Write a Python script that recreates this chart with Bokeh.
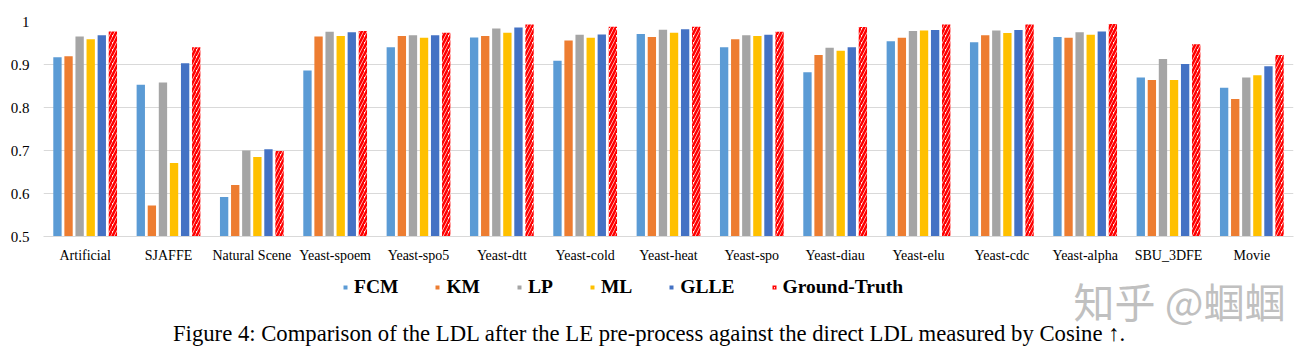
from bokeh.plotting import figure
from bokeh.layouts import column
from bokeh.models import Range1d, FixedTicker, Legend, LegendItem, Label
from bokeh.embed import file_html
from bokeh.resources import INLINE

datasets = ["Artificial", "SJAFFE", "Natural Scene", "Yeast-spoem", "Yeast-spo5", "Yeast-dtt",
            "Yeast-cold", "Yeast-heat", "Yeast-spo", "Yeast-diau", "Yeast-elu", "Yeast-cdc",
            "Yeast-alpha", "SBU_3DFE", "Movie"]
fcm = [0.917, 0.853, 0.592, 0.886, 0.940, 0.963, 0.909, 0.971, 0.940, 0.882, 0.954, 0.952, 0.964, 0.870, 0.846]
km = [0.919, 0.572, 0.620, 0.965, 0.966, 0.966, 0.956, 0.964, 0.959, 0.922, 0.962, 0.968, 0.962, 0.864, 0.820]
lp = [0.965, 0.858, 0.700, 0.976, 0.968, 0.984, 0.969, 0.981, 0.968, 0.939, 0.978, 0.979, 0.975, 0.913, 0.870]
ml = [0.959, 0.671, 0.685, 0.966, 0.962, 0.974, 0.962, 0.974, 0.966, 0.932, 0.979, 0.973, 0.969, 0.864, 0.875]
glle = [0.968, 0.903, 0.703, 0.975, 0.968, 0.986, 0.970, 0.982, 0.969, 0.940, 0.980, 0.980, 0.977, 0.901, 0.896]
ground_truth = [0.977, 0.940, 0.699, 0.978, 0.974, 0.993, 0.988, 0.988, 0.976, 0.987, 0.993, 0.993, 0.994, 0.947, 0.922]
series_names = ["FCM", "KM", "LP", "ML", "GLLE", "Ground-Truth"]
y_ticks = [0.5, 0.6, 0.7, 0.8, 0.9, 1.0]
y_tick_labels = ["0.5", "0.6", "0.7", "0.8", "0.9", "1"]
caption = "Figure 4: Comparison of the LDL after the LE pre-process against the direct LDL measured by Cosine \u2191."
watermark = "\u77e5\u4e4e @\u8748\u8748"

colors = ["#5B9BD5", "#ED7D31", "#A5A5A5", "#FFC000", "#4472C4", "#FF0000"]
serif = "Liberation Serif"
W = 1313

# ---- main chart ----
p = figure(width=W, height=265, output_backend="svg", toolbar_location=None,
           x_range=Range1d(-0.5, len(datasets) - 0.5), y_range=Range1d(0.5, 1.0),
           min_border_left=43, min_border_right=20, min_border_top=21, min_border_bottom=27)
p.outline_line_color = None
p.xgrid.grid_line_color = None
p.ygrid.grid_line_color = "#D9D9D9"
p.ygrid.ticker = FixedTicker(ticks=y_ticks)

xs = list(range(len(datasets)))
all_series = [fcm, km, lp, ml, glle, ground_truth]
pitch = 0.133
width = 0.1
for k, (name, vals, col) in enumerate(zip(series_names, all_series, colors)):
    xk = [x + (k - 2.5) * pitch for x in xs]
    if name == "Ground-Truth":
        p.vbar(x=xk, top=vals, bottom=0.5, width=width, fill_color="white", line_color=None,
               hatch_pattern="/", hatch_color=col, hatch_weight=2.6, hatch_scale=7)
    else:
        p.vbar(x=xk, top=vals, bottom=0.5, width=width, fill_color=col, line_color=None)

p.yaxis.ticker = FixedTicker(ticks=y_ticks)
p.yaxis.major_label_overrides = {t: l for t, l in zip(y_ticks, y_tick_labels)}
p.yaxis.axis_line_color = None
p.yaxis.major_tick_line_color = None
p.yaxis.minor_tick_line_color = None
p.yaxis.major_label_text_font = serif
p.yaxis.major_label_text_font_size = "15px"
p.yaxis.major_label_text_color = "#000000"
p.yaxis.major_label_standoff = 8

p.xaxis.ticker = FixedTicker(ticks=xs)
p.xaxis.major_label_overrides = {i: d for i, d in enumerate(datasets)}
p.xaxis.axis_line_color = "#D9D9D9"
p.xaxis.major_tick_line_color = None
p.xaxis.minor_tick_line_color = None
p.xaxis.major_label_text_font = serif
p.xaxis.major_label_text_font_size = "14px"
p.xaxis.major_label_text_color = "#000000"
p.xaxis.major_label_standoff = 5

# ---- legend + caption strip ----
H2 = 353 - 265
q = figure(width=W, height=H2, output_backend="svg", toolbar_location=None,
           x_range=Range1d(0, W), y_range=Range1d(0, H2),
           min_border_left=0, min_border_right=0, min_border_top=0, min_border_bottom=0)
q.axis.visible = False
q.grid.grid_line_color = None
q.outline_line_color = None

# legend swatches: one off-screen sample per series so the legend can draw its square glyph
items = []
for name, col in zip(series_names, colors):
    if name == "Ground-Truth":
        r = q.scatter(x=[-1000], y=[-1000], marker="square", size=10, fill_color="white", line_color=None,
                      hatch_pattern="/", hatch_color=col, hatch_weight=2.4, hatch_scale=5)
    else:
        r = q.scatter(x=[-1000], y=[-1000], marker="square", size=10, fill_color=col, line_color=None)
    items.append(LegendItem(label=name, renderers=[r]))

legend = Legend(items=items, orientation="horizontal", location=(297, 55),
                border_line_color=None, background_fill_alpha=0,
                label_text_font=serif, label_text_font_style="bold", label_text_font_size="19.5px",
                label_text_color="#000000",
                glyph_width=10, glyph_height=10, spacing=34, label_standoff=4, padding=0, margin=0)
q.add_layout(legend, "center")

q.add_layout(Label(x=637, y=20, text=caption, text_align="center", text_baseline="middle",
                   text_font=serif, text_font_size="22.7px", text_color="#000000"))
q.add_layout(Label(x=1082, y=54, text=watermark, text_align="left", text_baseline="middle",
                   text_font="Noto Sans CJK SC", text_font_size="41px", text_color="#C0C0C0"))

open("out.html", "w").write(file_html(column(p, q), INLINE))
